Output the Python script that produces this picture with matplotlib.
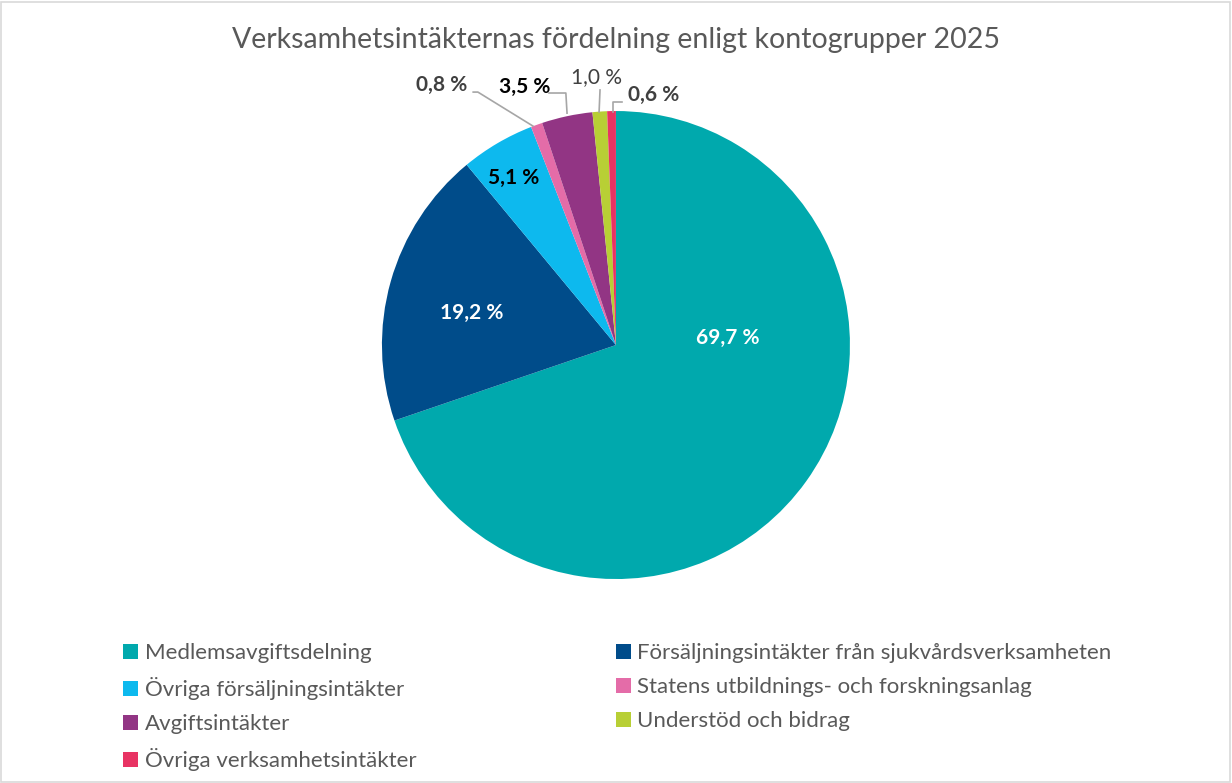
import matplotlib.pyplot as plt
from matplotlib.patches import Rectangle, Patch

categories = [
    "Medlemsavgiftsdelning",
    "Försäljningsintäkter från sjukvårdsverksamheten",
    "Övriga försäljningsintäkter",
    "Statens utbildnings- och forskningsanlag",
    "Avgiftsintäkter",
    "Understöd och bidrag",
    "Övriga verksamhetsintäkter",
]
shares = [69.7, 19.2, 5.1, 0.8, 3.5, 1.0, 0.6]
colors = ["#00A9AD", "#004C8A", "#0DB9EE", "#E46CA8", "#923584", "#B8CF35", "#E83363"]

plt.rcParams["font.family"] = ["Lato", "DejaVu Sans"]

fig = plt.figure(figsize=(12.32, 7.83), dpi=100)
fig.patches.append(Rectangle((0.001, 0.001), 0.997, 0.997, transform=fig.transFigure,
                             fill=False, edgecolor="#D9D9D9", linewidth=1.2))

ax = fig.add_axes([0.31, 0.2605, 0.3799, 0.5977])
wedges, _ = ax.pie(shares, colors=colors, startangle=90, counterclock=False,
                   radius=1, wedgeprops=dict(linewidth=0))
ax.set_xlim(-1, 1)
ax.set_ylim(-1, 1)
ax.set_aspect("equal")
ax.axis("off")

# label positions in pie-radius units, styles per label
label_pos = [(0.479, 0.030), (-0.615, 0.137), (-0.436, 0.714), (-0.744, 1.111),
             (-0.389, 1.103), (-0.085, 1.145), (0.162, 1.068)]
label_col = ["white", "white", "black", "#404040", "black", "#404040", "#404040"]
label_wt = ["bold", "bold", "bold", "bold", "bold", "normal", "bold"]
for v, (x, y), c, w in zip(shares, label_pos, label_col, label_wt):
    ax.text(x, y, f"{v:.1f} %".replace(".", ","), ha="center", va="center",
            color=c, fontsize=15, fontweight=w, clip_on=False)

# leader lines for the small slices
lead = [
    ([-0.610, -0.590, -0.355], [1.081, 1.081, 0.936]),
    ([-0.286, -0.214, -0.209], [1.077, 1.077, 0.991]),
    ([-0.068, -0.072], [1.090, 0.996]),
    ([0.026, -0.013, -0.013], [1.038, 1.038, 0.996]),
]
for xs, ys in lead:
    ax.plot(xs, ys, color="#A6A6A6", linewidth=1.2, clip_on=False)

fig.text(0.5, 0.949, "Verksamhetsintäkternas fördelning enligt kontogrupper 2025",
         ha="center", va="center", fontsize=20.5, color="#595959")

handles = [Patch(facecolor=c, label=l) for c, l in zip(colors, categories)]
order = [0, 2, 4, 6, 1, 3, 5]
fig.legend([handles[i] for i in order], [categories[i] for i in order],
           ncol=2, loc="upper left", bbox_to_anchor=(0.093, 0.190),
           frameon=False, fontsize=16, labelcolor="#595959",
           handlelength=0.65, handleheight=0.65, handletextpad=0.3,
           columnspacing=9.0, labelspacing=0.63, borderaxespad=0)

fig.savefig("out.png", dpi=100)
